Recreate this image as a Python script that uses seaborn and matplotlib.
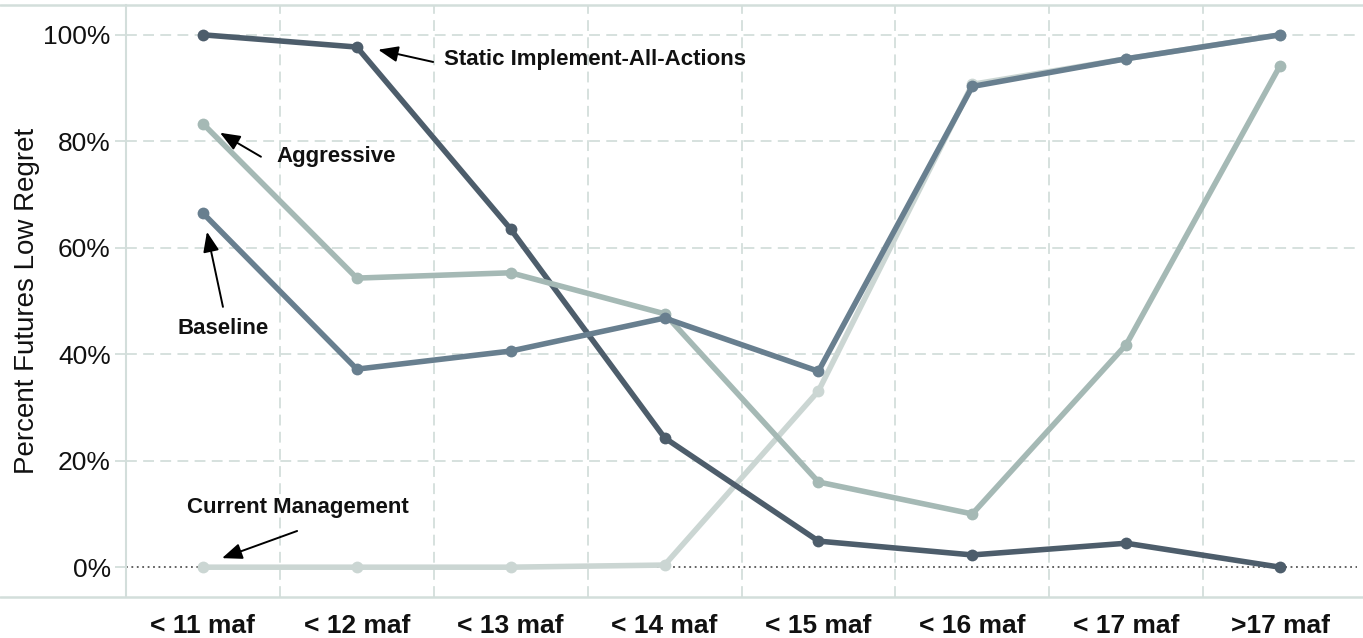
import matplotlib
matplotlib.use("Agg")
import matplotlib.pyplot as plt
from matplotlib.lines import Line2D
import seaborn as sns
import pandas as pd
import numpy as np

categories = ["< 11 maf", "< 12 maf", "< 13 maf", "< 14 maf", "< 15 maf", "< 16 maf", "< 17 maf", ">17 maf"]
static_all = [100, 97.7, 63.5, 24.3, 4.9, 2.3, 4.5, 0]
aggressive = [83.3, 54.3, 55.3, 47.6, 16.0, 10.0, 41.8, 94.2]
baseline = [66.5, 37.2, 40.6, 46.8, 36.8, 90.3, 95.5, 100]
current = [0, 0, 0, 0.4, 33.1, 90.7, 95.5, 100]

series_names = ["Current Management", "Static Implement-All-Actions", "Aggressive", "Baseline"]
series_values = [current, static_all, aggressive, baseline]
colors = {"Current Management": "#cbd6d3",
          "Static Implement-All-Actions": "#4d5d6b",
          "Aggressive": "#a5b9b5",
          "Baseline": "#687f8f"}

rows = []
for name, vals in zip(series_names, series_values):
    for i, v in enumerate(vals):
        rows.append({"pos": i, "value": v, "series": name})
df = pd.DataFrame(rows)

sns.set_theme(style="white")
plt.rcParams["font.family"] = ["Liberation Sans", "DejaVu Sans"]

fig = plt.figure(figsize=(13.63, 6.38), dpi=100)
W, H = 1363, 638
ax = fig.add_axes([126 / W, 1 - 597 / H, (1357 - 126) / W, (597 - 5) / H])

grid_c = "#d3dedb"
# grid
for y in [20, 40, 60, 80, 100]:
    ax.axhline(y, color=grid_c, lw=1.3, ls=(0, (6, 3.5)), zorder=0)
for xb in np.arange(0.5, len(categories) - 0.5, 1.0):
    ax.axvline(xb, color=grid_c, lw=1.3, ls=(0, (6, 3.5)), zorder=0)
ax.axhline(0, color="#555555", lw=1.3, ls=(0, (1, 2)), zorder=0.5)

sns.lineplot(data=df, x="pos", y="value", hue="series", hue_order=series_names,
             palette=colors, marker="o", markersize=8.5, markeredgewidth=0,
             linewidth=4, legend=False, ax=ax, sort=True)

ax.set_xlim(-0.5, len(categories) - 0.5)
ax.set_ylim(-5.6, 105.6)
ax.set_xticks(range(len(categories)))
ax.set_xticklabels(categories, fontsize=19, fontweight="bold", color="#111111")
ax.set_xticks(np.arange(-0.5, len(categories), 1.0), minor=True)
ax.tick_params(axis="x", which="major", length=0, pad=12)
ax.tick_params(axis="x", which="minor", length=7, color=grid_c, width=1.3, direction="out")
ax.set_yticks([0, 20, 40, 60, 80, 100])
ax.set_yticklabels([f"{v}%" for v in [0, 20, 40, 60, 80, 100]], fontsize=19, color="#111111")
ax.tick_params(axis="y", length=8, color=grid_c, width=1.3, pad=3, left=True)
ax.set_xlabel("")
ax.set_ylabel("Percent Futures Low Regret", fontsize=20, color="#111111")
ax.yaxis.set_label_coords(-0.070, 0.5)

for s in ["top", "right", "bottom"]:
    ax.spines[s].set_visible(False)
ax.spines["left"].set_color(grid_c)
ax.spines["left"].set_linewidth(1.5)

# frame lines across the figure
fig.add_artist(Line2D([0, 1], [1 - 5 / H, 1 - 5 / H], color=grid_c, lw=1.8, transform=fig.transFigure))
fig.add_artist(Line2D([0, 1], [1 - 597 / H, 1 - 597 / H], color=grid_c, lw=1.8, transform=fig.transFigure))

arrow = dict(arrowstyle="-|>,head_length=0.55,head_width=0.22", color="black", lw=1.4,
             mutation_scale=22, shrinkA=0, shrinkB=0)
tfont = dict(fontsize=16, fontweight="bold", color="#111111")

ax.annotate("", xy=(1.139, 97.2), xytext=(1.496, 94.9), arrowprops=arrow)
ax.text(1.568, 95.3, "Static Implement-All-Actions", ha="left", va="center", **tfont)

ax.annotate("", xy=(0.111, 81.6), xytext=(0.377, 77.1), arrowprops=arrow)
ax.text(0.475, 77.1, "Aggressive", ha="left", va="center", **tfont)

ax.annotate("", xy=(0.026, 63.0), xytext=(0.130, 48.9), arrowprops=arrow)
ax.text(0.130, 44.9, "Baseline", ha="center", va="center", **tfont)

ax.annotate("", xy=(0.124, 1.7), xytext=(0.612, 6.8), arrowprops=arrow)
ax.text(0.618, 11.3, "Current Management", ha="center", va="center", **tfont)

fig.savefig("out.png", dpi=100)
